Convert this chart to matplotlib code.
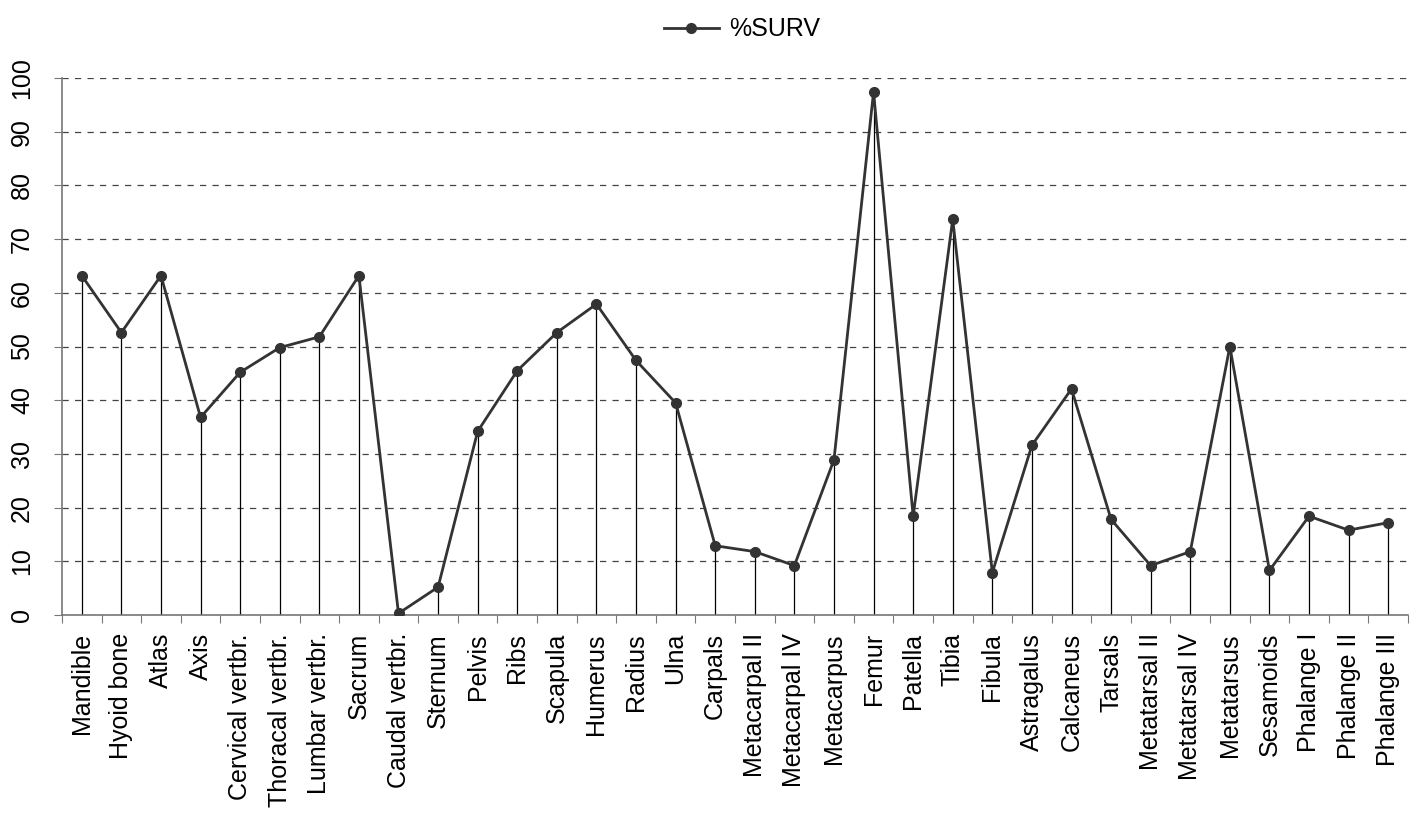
import numpy as np
from matplotlib import pyplot as plt

bones = ['Mandible', 'Hyoid bone', 'Atlas', 'Axis', 'Cervical vertbr.',
         'Thoracal vertbr.', 'Lumbar vertbr.', 'Sacrum', 'Caudal vertbr.',
         'Sternum', 'Pelvis', 'Ribs', 'Scapula', 'Humerus', 'Radius', 'Ulna',
         'Carpals', 'Metacarpal II', 'Metacarpal IV', 'Metacarpus', 'Femur',
         'Patella', 'Tibia', 'Fibula', 'Astragalus', 'Calcaneus', 'Tarsals',
         'Metatarsal II', 'Metatarsal IV', 'Metatarsus', 'Sesamoids',
         'Phalange I', 'Phalange II', 'Phalange III']
surv = [63.2, 52.6, 63.2, 36.8, 45.2, 49.8, 51.8, 63.2, 0.3,
        5.2, 34.2, 45.5, 52.6, 57.9, 47.4, 39.5,
        12.9, 11.8, 9.2, 28.9, 97.4,
        18.4, 73.7, 7.9, 31.6, 42.1, 17.8,
        9.2, 11.8, 50.0, 8.3,
        18.4, 15.8, 17.2]
y_ticks = list(range(0, 101, 10))

plt.rcParams['font.family'] = ['Liberation Sans', 'DejaVu Sans']
fs = 18

fig = plt.figure(figsize=(14.21, 8.16), dpi=100)
ax = fig.add_axes([62 / 1421, 201 / 816, 1346 / 1421, 537 / 816])

x = np.arange(len(bones))
ax.vlines(x, 0, surv, color='black', linewidth=0.9, zorder=2)
ax.plot(x, surv, color='#333333', linewidth=2.0, marker='o', markersize=7,
        solid_joinstyle='miter', label='%SURV', zorder=3)

ax.set_xlim(-0.5, len(bones) - 0.5)
ax.set_ylim(0, 100)
ax.set_yticks(y_ticks)
ax.set_yticklabels([str(v) for v in y_ticks], rotation=90, va='center', fontsize=fs)
ax.yaxis.grid(True, linestyle=(0, (5, 5)), color='#444444', linewidth=0.9)
ax.set_axisbelow(True)

ax.set_xticks(np.arange(-0.5, len(bones), 1.0))
ax.set_xticklabels([])
ax.set_xticks(x, minor=True)
ax.set_xticklabels(bones, minor=True, rotation=90, fontsize=fs)
ax.tick_params(axis='x', which='minor', length=0, pad=13)
ax.tick_params(axis='x', which='major', length=6, color='#777777')
ax.tick_params(axis='y', length=6, color='#777777', pad=14)

for side in ['top', 'right']:
    ax.spines[side].set_visible(False)
for side in ['left', 'bottom']:
    ax.spines[side].set_color('#777777')
    ax.spines[side].set_linewidth(1.2)

ax.legend(loc='upper center', bbox_to_anchor=(0.505, 1.155), frameon=False,
          fontsize=fs, handlelength=2.2, handletextpad=0.4)

fig.savefig('out.png', dpi=100)
